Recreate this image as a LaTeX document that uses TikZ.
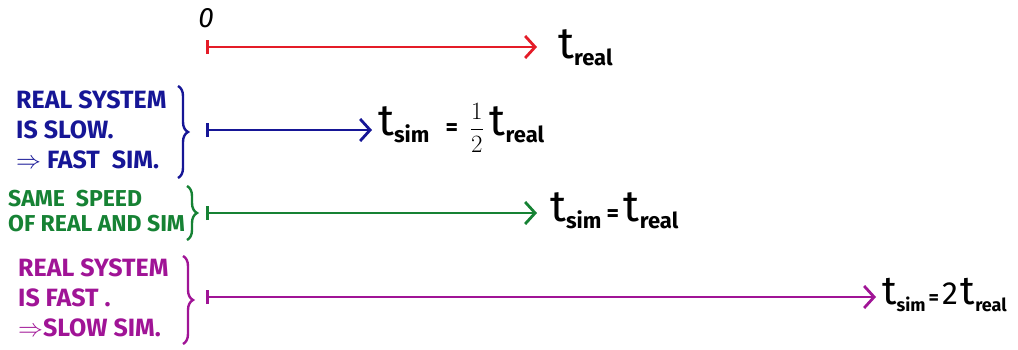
\documentclass[tikz,border=0pt]{standalone}
\usepackage{fontspec}
\setmainfont{Fira Sans}
\usetikzlibrary{arrows.meta,decorations.pathreplacing}
\definecolor{cred}{RGB}{228,28,40}
\definecolor{cblue}{RGB}{22,22,150}
\definecolor{cgreen}{RGB}{22,130,52}
\definecolor{cpurple}{RGB}{160,20,150}
\newcommand{\tsz}[3]{{\fontsize{#1}{#1}\selectfont t}{\fontsize{#2}{#2}\selectfont\bfseries\raisebox{-7pt}{#3}}}
\newcommand{\tlab}[1]{\tsz{44}{22}{#1}}
\newcommand{\eqs}{{\fontsize{24}{24}\selectfont\bfseries =}}
\begin{document}
\begin{tikzpicture}[x=1pt,y=-1pt,
  timeline/.style={line width=2.8pt,{Bar[width=14pt]}-{Straight Barb[length=10pt,width=22pt,line width=2.8pt]}},
  note/.style={anchor=west,align=left,font=\fontsize{25}{30}\selectfont\bfseries,inner sep=0pt},
  lab/.style={anchor=west,inner sep=0pt,text=black},
  bracestyle/.style={line width=2.4pt,decorate,decoration={brace,amplitude=10pt}}]
\useasboundingbox (0,0) rectangle (1018,349);
% red
\coordinate (r0) at (206,47);
\coordinate (r1) at (537,47);
\node[inner sep=0pt,font=\fontsize{28}{28}\selectfont\itshape] (zero) at (206,18) {0};
\node[lab] (treal) at (558,48) {\tlab{real}};
\draw[timeline,cred] (r0) -- (r1);
% blue
\coordinate (b0) at (206,130);
\coordinate (b1) at (372,130);
\node[lab] (tsimb) at (378,128) {\tlab{sim}\hspace{16pt}\eqs\hspace{12pt}{\fontsize{24}{24}\selectfont$\displaystyle\frac{1}{2}$}\hspace{6pt}\tlab{real}};
\draw[timeline,cblue] (b0) -- (b1);
\node[note,text=cblue] (nb) at (16,130) {REAL SYSTEM\\IS SLOW.\\$\Rightarrow$ FAST\ \ SIM.};
\coordinate (bt) at (178,86);
\coordinate (bb) at (178,178);
\draw[bracestyle,cblue] (bt) -- (bb);
% green
\coordinate (g0) at (206,213);
\coordinate (g1) at (537,213);
\node[lab] (tsimg) at (550,211) {\tlab{sim}\hspace{5pt}\eqs\hspace{5pt}\tlab{real}};
\draw[timeline,cgreen] (g0) -- (g1);
\node[note,text=cgreen,font=\fontsize{23}{25}\selectfont\bfseries] (ng) at (8,211) {SAME\ \ SPEED\\OF REAL AND SIM};
\coordinate (gt) at (187,186);
\coordinate (gb) at (187,240);
\draw[bracestyle,cgreen] (gt) -- (gb);
% purple
\coordinate (p0) at (206,297);
\coordinate (p1) at (876,297);
\node[lab] (tsimp) at (882,295) {\tsz{40}{18}{sim}\hspace{3pt}{\fontsize{20}{20}\selectfont\bfseries =}\hspace{3pt}{\fontsize{32}{32}\selectfont 2}\hspace{3pt}\tsz{40}{18}{real}};
\draw[timeline,cpurple] (p0) -- (p1);
\node[note,text=cpurple] (np) at (18,298) {REAL SYSTEM\\IS FAST .\\$\Rightarrow$SLOW SIM.};
\coordinate (pt) at (183,256);
\coordinate (pb) at (183,344);
\draw[bracestyle,cpurple] (pt) -- (pb);
\end{tikzpicture}
\end{document}
